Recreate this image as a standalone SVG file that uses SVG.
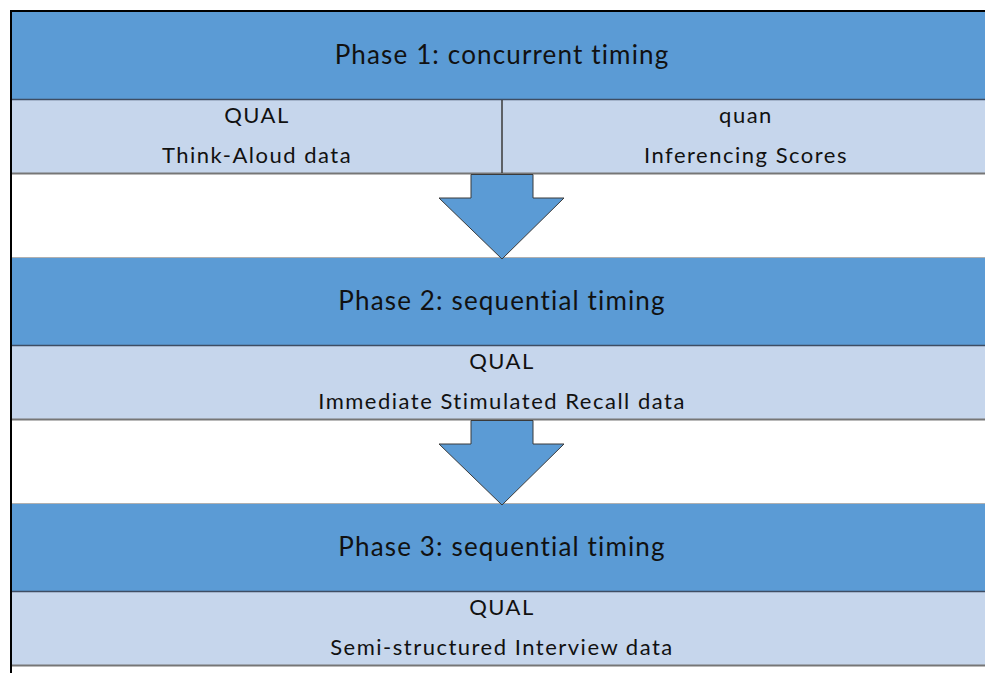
<svg xmlns="http://www.w3.org/2000/svg" width="985" height="673" viewBox="0 0 985 673">
  <style>
    .head { fill: #5B9BD5; }
    .body { fill: #C6D6EC; }
    .headline { stroke: #3E4D63; stroke-width: 1.5; }
    .baseline { stroke: #767676; stroke-width: 2; }
    .topline { stroke: #B0B0B0; stroke-width: 1; }
    .arrow { fill: #5B9BD5; stroke: #3A3A3A; stroke-width: 1; stroke-linejoin: miter; }
    text { font-family: Lato, "Liberation Sans", sans-serif; fill: #111; text-anchor: middle; }
    .title { font-size: 26px; letter-spacing: 1.15px; }
    .sub { font-size: 22px; letter-spacing: 1.5px; }
  </style>
  <rect width="985" height="673" fill="#FFFFFF"/>

  <!-- Phase 1 -->
  <g id="phase1">
    <rect class="head" x="12" y="12" width="973" height="87"/>
    <rect class="body" x="12" y="100" width="973" height="73"/>
    <line class="headline" x1="12" y1="99.5" x2="985" y2="99.5"/>
    <line class="baseline" x1="12" y1="173.5" x2="985" y2="173.5"/>
    <line x1="502" y1="100" x2="502" y2="173" stroke="#3A3A3A" stroke-width="1.5"/>
    <text class="title" x="502" y="64">Phase 1: concurrent timing</text>
    <text class="sub" x="257" y="123">QUAL</text>
    <text class="sub" x="257" y="163">Think-Aloud data</text>
    <text class="sub" x="746" y="123">quan</text>
    <text class="sub" x="746" y="163">Inferencing Scores</text>
  </g>

  <!-- Phase 2 -->
  <g id="phase2">
    <line class="topline" x1="12" y1="257.5" x2="985" y2="257.5"/>
    <rect class="head" x="12" y="258" width="973" height="87"/>
    <rect class="body" x="12" y="346" width="973" height="73"/>
    <line class="headline" x1="12" y1="345.5" x2="985" y2="345.5"/>
    <line class="baseline" x1="12" y1="419.5" x2="985" y2="419.5"/>
    <text class="title" x="502" y="310">Phase 2: sequential timing</text>
    <text class="sub" x="502" y="369">QUAL</text>
    <text class="sub" x="502" y="409">Immediate Stimulated Recall data</text>
  </g>

  <!-- Phase 3 -->
  <g id="phase3">
    <line class="topline" x1="12" y1="503.5" x2="985" y2="503.5"/>
    <rect class="head" x="12" y="504" width="973" height="87"/>
    <rect class="body" x="12" y="592" width="973" height="73"/>
    <line class="headline" x1="12" y1="591.5" x2="985" y2="591.5"/>
    <line class="baseline" x1="12" y1="665.5" x2="985" y2="665.5"/>
    <text class="title" x="502" y="556">Phase 3: sequential timing</text>
    <text class="sub" x="502" y="615">QUAL</text>
    <text class="sub" x="502" y="655">Semi-structured Interview data</text>
  </g>

  <!-- block arrows between phases -->
  <g id="connectors">
    <polygon class="arrow" points="471,174.5 533,174.5 533,198 564,198 502,259 439,198 471,198"/>
    <polygon class="arrow" points="471,420.5 533,420.5 533,444 564,444 502,505 439,444 471,444"/>
  </g>

  <!-- outer frame: top and left edges -->
  <line x1="10" y1="11" x2="985" y2="11" stroke="#000" stroke-width="2"/>
  <line x1="11" y1="10" x2="11" y2="673" stroke="#000" stroke-width="2"/>
</svg>
